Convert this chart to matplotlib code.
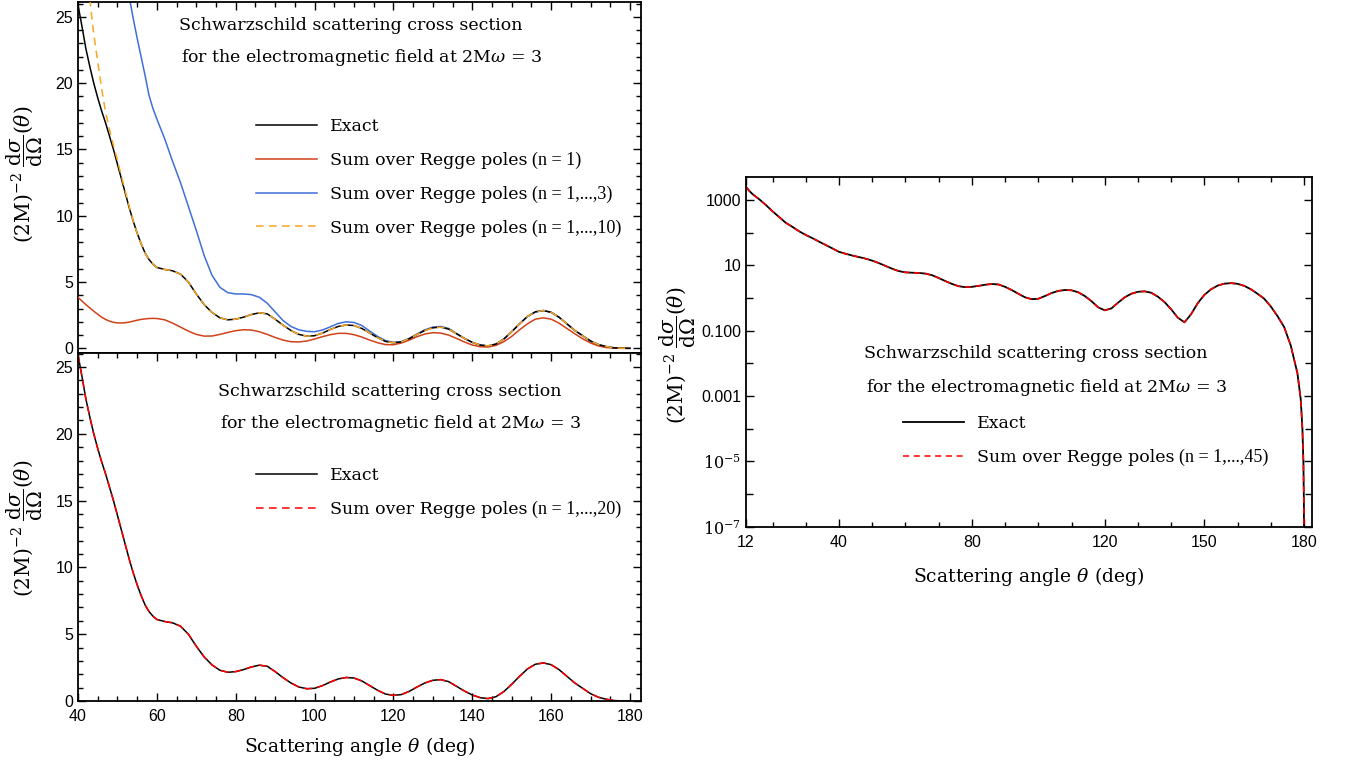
import matplotlib
matplotlib.use("Agg")
import matplotlib.pyplot as plt
from matplotlib.ticker import MultipleLocator, FixedLocator, NullFormatter, FixedFormatter

plt.rcParams['mathtext.fontset'] = 'dejavuserif'

# ---------------- data ----------------
theta = [40, 41, 42, 43, 44, 45, 46, 47, 48, 49, 50, 51, 52, 53, 54, 55, 56, 57, 58, 59, 60,
         62, 64, 66, 68, 70, 72, 74, 76, 78,
         80, 82, 84, 86, 88, 90, 92, 94, 96, 98, 100, 102, 104, 106, 108, 110, 112, 114, 116, 118,
         120, 122, 124, 126, 128, 130, 132, 134, 136, 138, 140, 142, 144, 146, 148, 150, 152, 154, 156, 158,
         160, 162, 164, 166, 168, 170, 172, 174, 176, 178, 180]

exact = [25.9, 24.3, 22.6, 21.25, 20.0, 18.9, 17.9, 17.0, 16.0, 15.0, 13.9, 12.8, 11.7, 10.6, 9.6, 8.7, 7.9, 7.2, 6.7, 6.35, 6.1,
         5.95, 5.85, 5.6, 5.0, 4.1, 3.3, 2.7, 2.3, 2.15,
         2.2, 2.35, 2.55, 2.68, 2.6, 2.2, 1.75, 1.35, 1.05, 0.92, 0.95, 1.15, 1.42, 1.65, 1.76, 1.72, 1.5, 1.15, 0.8, 0.52,
         0.42, 0.48, 0.72, 1.05, 1.35, 1.55, 1.6, 1.45, 1.1, 0.75, 0.45, 0.25, 0.18, 0.32, 0.7, 1.25, 1.85, 2.4, 2.75, 2.85,
         2.72, 2.35, 1.85, 1.35, 0.95, 0.55, 0.28, 0.13, 0.035, 0.005, 0.0]

regge_n1 = [3.85, 3.57, 3.3, 3.05, 2.8, 2.57, 2.35, 2.18, 2.05, 1.96, 1.92, 1.91, 1.93, 1.98, 2.05, 2.12, 2.18, 2.22, 2.25, 2.26, 2.25,
            2.15, 1.9, 1.6, 1.3, 1.05, 0.92, 0.93, 1.05, 1.2,
            1.33, 1.4, 1.38, 1.25, 1.05, 0.82, 0.62, 0.5, 0.48, 0.55, 0.7, 0.88, 1.03, 1.13, 1.13, 1.03, 0.85, 0.62, 0.42, 0.28,
            0.27, 0.4, 0.62, 0.88, 1.08, 1.18, 1.15, 1.0, 0.75, 0.48, 0.25, 0.12, 0.1, 0.22, 0.5, 0.9, 1.4, 1.85, 2.2, 2.3,
            2.2, 1.9, 1.5, 1.1, 0.72, 0.4, 0.18, 0.06, 0.015, 0.002, 0.0]

theta_n3 = theta[10:]
regge_n3 = [33.0, 30.5, 28.3, 26.5, 24.9, 23.4, 22.0, 20.6, 19.1, 18.1, 17.3,
            15.8, 14.1, 12.5, 10.7, 8.9, 7.0, 5.5, 4.6, 4.2,
            4.1, 4.1, 4.05, 3.85, 3.4, 2.75, 2.1, 1.65, 1.4, 1.28, 1.25, 1.38, 1.62, 1.88, 2.0, 1.95, 1.72, 1.3, 0.9, 0.58,
            0.45, 0.5, 0.75, 1.08, 1.4, 1.6, 1.65, 1.5, 1.12, 0.75, 0.45, 0.25, 0.18, 0.32, 0.7, 1.25, 1.85, 2.4, 2.75, 2.85,
            2.72, 2.35, 1.85, 1.35, 0.95, 0.55, 0.28, 0.13, 0.035, 0.005, 0.0]

theta_n10 = theta[2:]
regge_n10 = [31.0, 26.3, 23.7, 21.6, 19.6, 17.8, 16.5, 15.3, 14.2, 13.0, 11.85, 10.7, 9.6] + exact[15:]

regge_n20 = list(exact)

theta_fwd = [12, 13, 14, 16, 18, 20, 22, 24, 26, 28, 30, 32, 34, 36, 38]
exact_fwd = [2500, 1900, 1500, 1050, 700, 450, 300, 200, 150, 110, 85, 68, 53, 42, 33]
theta_back = [179, 179.5, 179.8, 179.95, 180]
exact_back = [8e-4, 1e-4, 1e-5, 5e-7, 1e-9]

theta_log = theta_fwd + theta[:-1] + theta_back
exact_log = exact_fwd + exact[:-1] + exact_back
regge_n45 = list(exact_log)

title_1 = "Schwarzschild scattering cross section"
title_2 = r"for the electromagnetic field at 2M$\omega$ = 3"
xlabel = r"Scattering angle $\theta$ (deg)"
ylabel = r"$(2\mathrm{M})^{-2}\ \dfrac{\mathrm{d}\sigma}{\mathrm{d}\Omega}(\theta)$"

# ---------------- figure ----------------
W, H = 1348, 771
fig = plt.figure(figsize=(W / 100, H / 100), dpi=100)


def rect(x0, y0, x1, y1):
    return [x0 / W, 1 - y1 / H, (x1 - x0) / W, (y1 - y0) / H]


def fx(x, y):
    return (x / W, 1 - y / H)


SERIF = 'DejaVu Serif'
TIMES = 'Liberation Serif'
SANS = 'Liberation Sans'
TXT = 12.5
TICK = 11.5

ax_top = fig.add_axes(rect(78, 1.7, 641, 352.7))
ax_bot = fig.add_axes(rect(78, 352.7, 641, 701))
ax_log = fig.add_axes(rect(746, 177.3, 1311.7, 526.7))

for ax in (ax_top, ax_bot, ax_log):
    for s in ax.spines.values():
        s.set_linewidth(1.3)
    ax.tick_params(which='both', direction='in', top=True, right=True, labelsize=TICK, width=1.0)
    ax.tick_params(which='major', length=6)
    ax.tick_params(which='minor', length=3.5)
    ax.tick_params(axis='x', which='major', pad=6)

# ---- top-left ----
ax_top.plot(theta, exact, color='black', lw=1.1, label='Exact', zorder=4)
ax_top.plot(theta, regge_n1, color='#D0421A', lw=1.1, label='Sum over Regge poles (n = 1)', zorder=3)
ax_top.plot(theta_n3, regge_n3, color='#3F6FD8', lw=1.1, label='Sum over Regge poles (n = 1,...,3)', zorder=2)
ax_top.plot(theta_n10, regge_n10, color='#F5A623', lw=1.1, ls=(0, (5, 3.5)),
            label='Sum over Regge poles (n = 1,...,10)', zorder=5)
ax_top.set_xlim(40, 182.8)
ax_top.set_ylim(-0.33, 26.15)
ax_top.xaxis.set_major_locator(MultipleLocator(20))
ax_top.xaxis.set_minor_locator(MultipleLocator(5))
ax_top.yaxis.set_major_locator(MultipleLocator(5))
ax_top.yaxis.set_minor_locator(MultipleLocator(1))
ax_top.tick_params(axis='x', which='both', bottom=False, labelbottom=False)

# ---- bottom-left ----
ax_bot.plot(theta, exact, color='black', lw=1.1, label='Exact')
ax_bot.plot(theta, regge_n20, color='#FF0000', lw=1.1, ls=(0, (5, 3.5)),
            label='Sum over Regge poles (n = 1,...,20)')
ax_bot.set_xlim(40, 182.8)
ax_bot.set_ylim(0, 26.07)
ax_bot.xaxis.set_major_locator(MultipleLocator(20))
ax_bot.xaxis.set_minor_locator(MultipleLocator(5))
ax_bot.yaxis.set_major_locator(MultipleLocator(5))
ax_bot.yaxis.set_minor_locator(MultipleLocator(1))

# ---- right log ----
ax_log.plot(theta_log, exact_log, color='black', lw=1.3, label='Exact')
ax_log.plot(theta_log, regge_n45, color='#FF0000', lw=1.1, ls=(0, (4, 3)),
            label='Sum over Regge poles (n = 1,...,45)')
ax_log.set_yscale('log')
ax_log.set_xlim(12, 182.3)
ax_log.set_ylim(1e-7, 10 ** 3.695)
ax_log.xaxis.set_major_locator(FixedLocator([12, 40, 80, 120, 150, 180]))
ax_log.xaxis.set_minor_locator(FixedLocator([20, 30, 50, 60, 70, 90, 100, 110, 130, 140, 160, 170]))
ax_log.yaxis.set_major_locator(FixedLocator([1e3, 1e1, 1e-1, 1e-3, 1e-5, 1e-7]))
ax_log.yaxis.set_major_formatter(FixedFormatter(['1000', '10', '0.100', '0.001', r'$10^{-5}$', r'$10^{-7}$']))
ax_log.yaxis.set_minor_locator(FixedLocator([1e2, 1e0, 1e-2, 1e-4, 1e-6]))
ax_log.yaxis.set_minor_formatter(NullFormatter())
ax_log.tick_params(axis='y', which='minor', length=5)

for ax in (ax_top, ax_bot, ax_log):
    for lab in ax.get_xticklabels() + ax.get_yticklabels():
        lab.set_fontfamily(SANS)

# ---- titles ----
title_pos = [((179, 26), (181, 58)), ((218, 392), (220, 423)), ((864, 354), (866, 387))]
for (p1, p2) in title_pos:
    fig.text(*fx(*p1), title_1, family=SERIF, fontsize=TXT, ha='left', va='center')
    fig.text(*fx(*p2), title_2, family=SERIF, fontsize=TXT, ha='left', va='center')

# ---- legends ----
leg_kw = dict(frameon=False, prop={'family': SERIF, 'size': TXT}, handlelength=3.5,
              handletextpad=0.75, labelspacing=0.97, borderaxespad=0, borderpad=0, loc='upper left')
legends = [
    ax_top.legend(bbox_to_anchor=fx(256, 118), bbox_transform=fig.transFigure, **leg_kw),
    ax_bot.legend(bbox_to_anchor=fx(256, 467), bbox_transform=fig.transFigure, **leg_kw),
    ax_log.legend(bbox_to_anchor=fx(903, 415), bbox_transform=fig.transFigure, **leg_kw),
]
# the "(n = ...)" part of each label is set in a Times-like face, as in the reference
paren_parts = []
for leg in legends:
    for t in leg.get_texts():
        s = t.get_text()
        if ' (' in s:
            main, rest = s.split(' (', 1)
            t.set_text(main)
            paren_parts.append((t, '(' + rest))

fig.canvas.draw()
for t, rest in paren_parts:
    bb = t.get_window_extent()
    fig.text((bb.x1 + 5) / W, (bb.y0 + bb.y1) / 2 / H, rest, family=TIMES, fontsize=13,
             ha='left', va='center')

# ---- axis labels ----
fig.text(*fx(360, 746), xlabel, family=SERIF, fontsize=13.5, ha='center', va='center')
fig.text(*fx(1029, 577), xlabel, family=SERIF, fontsize=13.5, ha='center', va='center')
for (xx, yy) in [(25, 174), (25, 528), (678, 355)]:
    fig.text(*fx(xx, yy), ylabel, family=SERIF, fontsize=14.5, rotation=90, ha='center', va='center')

fig.savefig('out.png', dpi=100)
